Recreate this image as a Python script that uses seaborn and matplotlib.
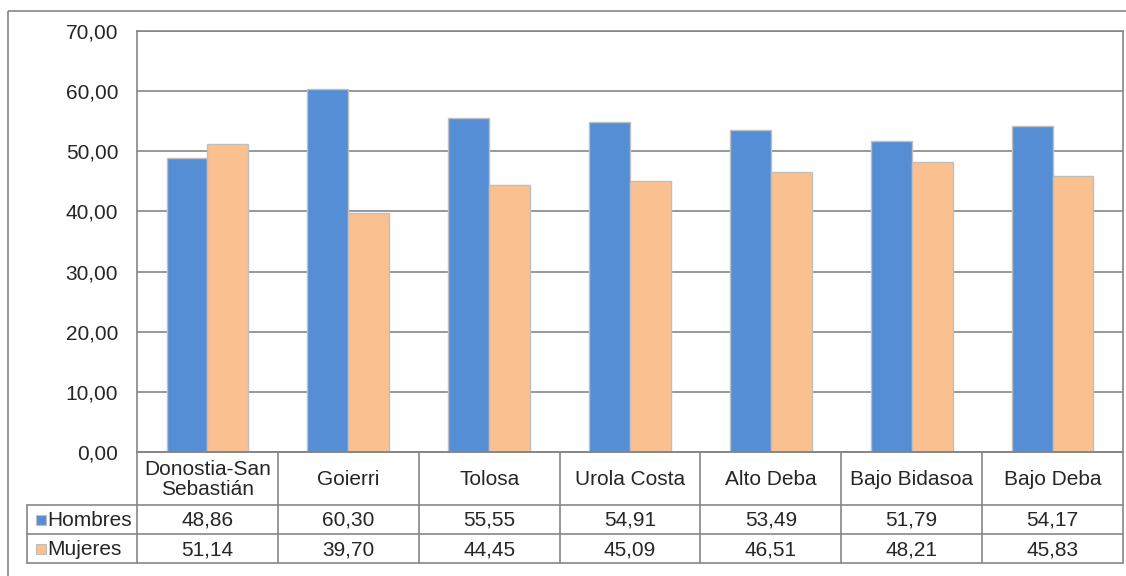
import matplotlib
matplotlib.use("Agg")
import matplotlib.pyplot as plt
import seaborn as sns
import pandas as pd
from matplotlib.patches import Rectangle

comarcas = ["Donostia-San\nSebastián", "Goierri", "Tolosa", "Urola Costa",
            "Alto Deba", "Bajo Bidasoa", "Bajo Deba"]
hombres = [48.86, 60.30, 55.55, 54.91, 53.49, 51.79, 54.17]
mujeres = [51.14, 39.70, 44.45, 45.09, 46.51, 48.21, 45.83]
series = ["Hombres", "Mujeres"]
colores = {"Hombres": "#558ED5", "Mujeres": "#FAC090"}
yticks = [0, 10, 20, 30, 40, 50, 60, 70]

df = pd.DataFrame({
    "comarca": comarcas * 2,
    "serie": ["Hombres"] * len(comarcas) + ["Mujeres"] * len(comarcas),
    "valor": hombres + mujeres,
})

sns.set_style("white")
plt.rcParams["font.family"] = ["Liberation Sans", "DejaVu Sans"]

W, H = 1126, 576
fig = plt.figure(figsize=(W / 100, H / 100), dpi=100)

# plot area in pixels
L, R, T, B = 137, 1123, 31, 452
ax = fig.add_axes([L / W, 1 - B / H, (R - L) / W, (B - T) / H])

sns.barplot(data=df, x="comarca", y="valor", hue="serie", palette=colores,
            width=0.58, edgecolor="#BFBFBF", linewidth=1, ax=ax, saturation=1,
            legend=False, errorbar=None)

fs = 15
ax.set_xlim(-0.5, len(comarcas) - 0.5)
ax.set_ylim(0, 70)
ax.set_yticks(yticks)
ax.set_yticklabels([f"{v:.2f}".replace(".", ",") for v in yticks], fontsize=fs)
ax.tick_params(axis="y", length=0, pad=13.5)
ax.set_xticks([])
ax.set_xlabel("")
ax.set_ylabel("")
ax.yaxis.grid(True, color="#868686", linewidth=1.2)
ax.set_axisbelow(True)
for s in ax.spines.values():
    s.set_color("#868686")
    s.set_linewidth(1.2)

# overlay in pixel coordinates for the data table and frame
ov = fig.add_axes([0, 0, 1, 1], facecolor="none")
ov.set_xlim(0, W)
ov.set_ylim(H, 0)
ov.axis("off")

grid_c = "#868686"
lw = 1.2
cw = (R - L) / len(comarcas)
lx = 27
y_head, y_r1, y_r2, y_r3 = B, 505, 534, 563

# outer frame
ov.add_patch(Rectangle((8, 11), W, H, fill=False, edgecolor=grid_c, linewidth=lw))

# horizontal lines
ov.plot([L, R], [y_head, y_head], color=grid_c, lw=lw)
for y in (y_r1, y_r2, y_r3):
    ov.plot([lx, R], [y, y], color=grid_c, lw=lw)
# vertical lines
ov.plot([lx, lx], [y_r1, y_r3], color=grid_c, lw=lw)
for i in range(len(comarcas) + 1):
    ov.plot([L + i * cw, L + i * cw], [y_head, y_r3], color=grid_c, lw=lw)

for i, name in enumerate(comarcas):
    cx = L + (i + 0.5) * cw
    ov.text(cx, (y_head + y_r1) / 2 + 1, name, ha="center", va="center",
            fontsize=fs, linespacing=1.05)
    ov.text(cx, (y_r1 + y_r2) / 2 + 1, f"{hombres[i]:.2f}".replace(".", ","),
            ha="center", va="center", fontsize=fs)
    ov.text(cx, (y_r2 + y_r3) / 2 + 1, f"{mujeres[i]:.2f}".replace(".", ","),
            ha="center", va="center", fontsize=fs)

for j, (s, (ya, yb)) in enumerate(zip(series, [(y_r1, y_r2), (y_r2, y_r3)])):
    ym = (ya + yb) / 2
    ov.add_patch(Rectangle((36, ym - 5), 10, 10, facecolor=colores[s],
                           edgecolor="#BFBFBF", linewidth=0.8))
    ov.text(47, ym + 1, s, ha="left", va="center", fontsize=fs)

fig.savefig("out.png", dpi=100)
